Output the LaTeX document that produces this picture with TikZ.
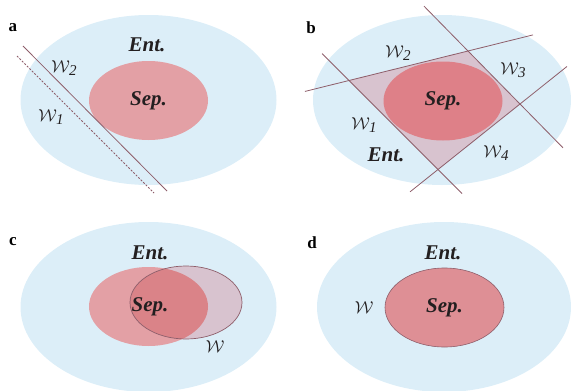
\documentclass[tikz,border=0pt]{standalone}
\usepackage{fontspec}
\setmainfont{Liberation Serif}
\usetikzlibrary{shapes.geometric,calc}
\definecolor{entblue}{HTML}{DCEEF8}
\definecolor{sepa}{HTML}{E3A0A5}
\definecolor{sepb}{HTML}{DE8088}
\definecolor{sepd}{HTML}{DE8F95}
\definecolor{wfill}{HTML}{D8C3CF}
\definecolor{overlap}{HTML}{DA8388}
\definecolor{wline}{HTML}{8E5E6A}
\definecolor{txt}{HTML}{231F20}
\newcommand{\wsub}[1]{$\mathcal{W}$\kern-0.5pt\raisebox{-2.5pt}{\fontsize{15}{15}\selectfont\itshape #1}}
\begin{document}
\begin{tikzpicture}[x=1pt,y=-1pt,
  entell/.style={ellipse,fill=entblue,inner sep=0pt,minimum width=256pt,minimum height=170pt},
  sepell/.style={ellipse,inner sep=0pt,minimum width=119pt,minimum height=79pt,text=txt,font=\fontsize{21}{24}\selectfont\bfseries\itshape},
  enttxt/.style={text=txt,font=\fontsize{21}{24}\selectfont\bfseries\itshape},
  wlab/.style={text=txt,font=\fontsize{19}{20}\selectfont},
  panel/.style={text=black,font=\fontsize{17}{20}\selectfont\bfseries},
  wl/.style={draw=wline,line width=0.8pt}]
\useasboundingbox (0,0) rectangle (571,391);
% ---------- panel a
\node[entell] (entA) at (148.5,100) {};
\node[sepell,fill=sepa] (sepA) at (148.5,100.5) {Sep.};
\node[enttxt] (entAt) at (147,45) {Ent.};
\coordinate (a1s) at (23,46);
\coordinate (a1e) at (167,191);
\coordinate (a2s) at (17,56);
\coordinate (a2e) at (154,193);
\draw[wl] (a1s) -- (a1e);
\draw[wl,dash pattern=on 2pt off 1.5pt,line width=0.75pt] (a2s) -- (a2e);
\node[wlab] (wA2) at (64,68) {\wsub{2}};
\node[wlab] (wA1) at (51,117) {\wsub{1}};
\node[panel] (la) at (13,28) {a};
% ---------- panel b
\node[entell,minimum width=258pt] (entB) at (442,100) {};
\coordinate (P12) at (349,80.5);
\coordinate (P23) at (468,51);
\coordinate (P34) at (520,104);
\coordinate (P14) at (438,169.5);
\fill[wfill] (P12) -- (P23) -- (P34) -- (P14) -- cycle;
\node[sepell,fill=sepb] (sepB) at (443,101) {Sep.};
\draw[wl] ($(P12)!-0.37!(P23)$) -- ($(P12)!1.546!(P23)$);
\draw[wl] ($(P12)!-0.303!(P14)$) -- ($(P12)!1.27!(P14)$);
\draw[wl] ($(P23)!-0.846!(P34)$) -- ($(P23)!1.827!(P34)$);
\draw[wl] ($(P14)!-0.341!(P34)$) -- ($(P14)!1.573!(P34)$);
\node[wlab] (wB2) at (398,53) {\wsub{2}};
\node[wlab] (wB3) at (513,70) {\wsub{3}};
\node[wlab] (wB1) at (364,125) {\wsub{1}};
\node[wlab] (wB4) at (496,153) {\wsub{4}};
\node[enttxt] (entBt) at (386,155) {Ent.};
\node[panel] (lb) at (311,28) {b};
% ---------- panel c
\node[entell] (entC) at (148.5,307) {};
\node[sepell,fill=sepa] (sepC) at (148.5,306.5) {};
\node[ellipse,inner sep=0pt,minimum width=112pt,minimum height=73pt,fill=wfill] (wC) at (186,302.5) {};
\begin{scope}
\clip (148.5,306.5) ellipse [x radius=59.5pt, y radius=39.5pt];
\fill[overlap] (186,302.5) ellipse [x radius=56pt, y radius=36.5pt];
\end{scope}
\draw[wline,line width=0.7pt] (wC.center) ellipse [x radius=56pt, y radius=36.5pt];
\node[enttxt] (sepCt) at (150,307) {Sep.};
\node[enttxt] (entCt) at (150,253) {Ent.};
\node[wlab] (wC1) at (215,347) {$\mathcal{W}$};
\node[panel] (lc) at (13,242) {c};
% ---------- panel d
\node[entell,minimum width=254pt] (entD) at (444,307) {};
\node[sepell,fill=sepd,draw=wline,line width=0.6pt] (sepD) at (444.5,307.5) {Sep.};
\node[enttxt] (entDt) at (443,253) {Ent.};
\node[wlab] (wD) at (364,308) {$\mathcal{W}$};
\node[panel] (ld) at (312,243) {d};
\end{tikzpicture}
\end{document}
